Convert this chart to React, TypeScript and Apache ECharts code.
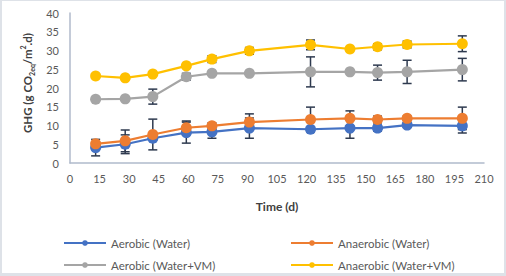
import React, { useEffect, useRef } from "react";
import * as echarts from "echarts";

const days = [13, 28, 42, 59, 72, 91, 122, 142, 156, 171, 199];
const aerobicWater = [4.1, 5.0, 6.6, 8.1, 8.3, 9.3, 9.0, 9.3, 9.3, 10.1, 9.9];
const aerobicWaterErr = [2.2, 2.5, 0.5, 2.8, 1.7, 2.7, 0.5, 2.7, 0.8, 0.6, 1.9];
const anaerobicWater = [5.1, 5.9, 7.6, 9.4, 9.9, 10.9, 11.6, 11.9, 11.6, 11.9, 11.9];
const anaerobicWaterErr = [0.5, 2.9, 4.1, 1.8, 0.8, 2.2, 3.3, 2.0, 0.9, 0.6, 3.0];
const aerobicVM = [17.0, 17.1, 17.7, 23.0, 23.9, 23.9, 24.3, 24.3, 24.1, 24.3, 24.9];
const aerobicVMErr = [0.3, 0.3, 2.0, 0.9, 0.3, 0.3, 4.0, 0.3, 2.0, 3.1, 3.0];
const anaerobicVM = [23.2, 22.7, 23.7, 25.9, 27.7, 29.9, 31.5, 30.4, 31.0, 31.6, 31.8];
const anaerobicVMErr = [0, 0, 0, 0, 0.9, 0.9, 1.3, 0, 0.8, 0.9, 2.1];

const seriesNames = [
  "Aerobic (Water)",
  "Anaerobic (Water)",
  "Aerobic (Water+VM)",
  "Anaerobic (Water+VM)",
];
const colors = ["#4472C4", "#ED7D31", "#A5A5A5", "#FFC000"];

const FONT = "Lato, 'Liberation Sans', sans-serif";
const ERR_COLOR = "#2E3A4F";

export default function App() {
  const ref = useRef<HTMLDivElement>(null);

  useEffect(() => {
    if (!ref.current) return;
    const chart = echarts.init(ref.current, undefined, { renderer: "svg" });

    const values = [aerobicWater, anaerobicWater, aerobicVM, anaerobicVM];
    const errs = [aerobicWaterErr, anaerobicWaterErr, aerobicVMErr, anaerobicVMErr];

    const lineSeries = values.map((vals, i) => ({
      name: seriesNames[i],
      type: "line",
      data: days.map((d, j) => [d, vals[j]]),
      symbol: "circle",
      symbolSize: 11,
      z: 3 + i,
      lineStyle: { color: colors[i], width: 2.25 },
      itemStyle: { color: colors[i] },
    }));

    const errSeries = errs.map((ev, i) => ({
      name: seriesNames[i] + " err",
      type: "custom",
      z: 1,
      data: days
        .map((d, j) => [d, values[i][j], ev[j]])
        .filter((r) => r[2] > 0),
      renderItem: (params: any, api: any) => {
        const x = api.value(0);
        const y = api.value(1);
        const e = api.value(2);
        const top = api.coord([x, y + e]);
        const bot = api.coord([x, y - e]);
        const hw = 4.5;
        const style = { stroke: ERR_COLOR, lineWidth: 1.5 };
        return {
          type: "group",
          children: [
            { type: "line", shape: { x1: top[0], y1: top[1], x2: bot[0], y2: bot[1] }, style },
            { type: "line", shape: { x1: top[0] - hw, y1: top[1], x2: top[0] + hw, y2: top[1] }, style },
            { type: "line", shape: { x1: bot[0] - hw, y1: bot[1], x2: bot[0] + hw, y2: bot[1] }, style },
          ],
        };
      },
    }));

    const legendPos = [
      { left: 58, top: 232 },
      { left: 285, top: 232 },
      { left: 58, top: 254 },
      { left: 285, top: 254 },
    ];

    const option: any = {
      animation: false,
      textStyle: { fontFamily: FONT },
      grid: { left: 70, right: 22, top: 13, bottom: 113, containLabel: false },
      legend: legendPos.map((p, i) => ({
        data: [seriesNames[i]],
        left: p.left,
        top: p.top,
        itemWidth: 42,
        itemHeight: 7,
        itemGap: 4,
        textStyle: { color: "#595959", fontSize: 11.5, fontFamily: FONT },
      })),
      xAxis: {
        type: "value",
        min: 0,
        max: 210,
        interval: 15,
        name: "Time (d)",
        nameLocation: "middle",
        nameGap: 37,
        nameTextStyle: { fontWeight: "bold", fontSize: 12, color: "#404040", fontFamily: FONT },
        axisLine: { show: true, lineStyle: { color: "#B0BACB", width: 1.5 } },
        axisTick: { show: false },
        splitLine: { show: false },
        axisLabel: { color: "#595959", fontSize: 11, margin: 10, fontFamily: FONT },
      },
      yAxis: {
        type: "value",
        min: 0,
        max: 40,
        interval: 5,
        name: "{a|GHG (g CO}{s|2eq}{a|/m}{p|2}{a|.d)}",
        nameLocation: "middle",
        nameRotate: 90,
        nameGap: 32,
        nameTextStyle: {
          padding: [0, 0, 0, 10],
          rich: {
            a: { fontWeight: "bold", fontSize: 11.5, color: "#404040", fontFamily: FONT, lineHeight: 16 },
            s: { fontWeight: "bold", fontSize: 7, color: "#404040", fontFamily: FONT, lineHeight: 9, verticalAlign: "bottom" },
            p: { fontWeight: "bold", fontSize: 7, color: "#404040", fontFamily: FONT, lineHeight: 9, verticalAlign: "top" },
          },
        },
        axisLine: { show: true, lineStyle: { color: "#B0BACB", width: 1.5 } },
        axisTick: { show: false },
        splitLine: { show: false },
        axisLabel: { color: "#595959", fontSize: 11, margin: 11, fontFamily: FONT },
      },
      series: [...errSeries, ...lineSeries],
    };

    chart.setOption(option);
    return () => chart.dispose();
  }, []);

  return (
    <div
      style={{
        position: "fixed",
        left: 0,
        top: 0,
        width: 506,
        height: 276,
        background: "#DEE2E8",
      }}
    >
      <div
        style={{
          position: "absolute",
          left: 2,
          top: 1,
          width: 502,
          height: 272,
          background: "#FFFFFF",
        }}
      />
      <div
        ref={ref}
        style={{ position: "absolute", left: 0, top: 0, width: 506, height: 276 }}
      />
    </div>
  );
}
